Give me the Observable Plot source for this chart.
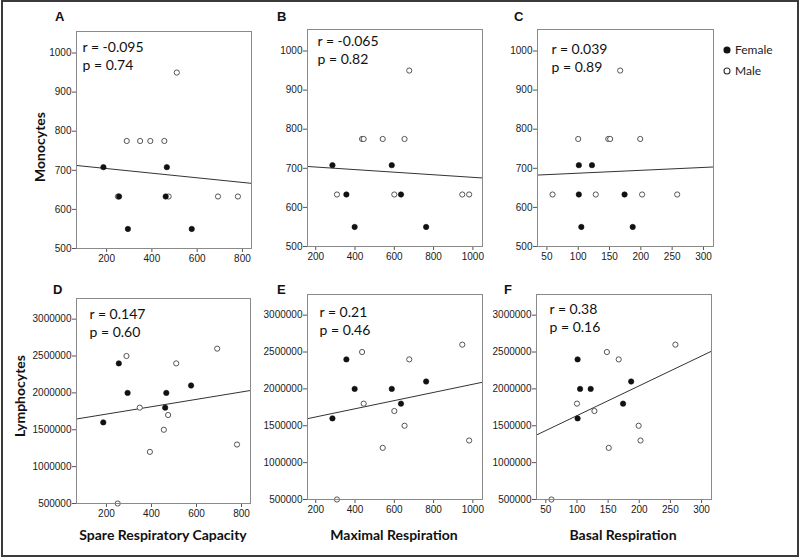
<!DOCTYPE html>
<html>
<head>
<meta charset="utf-8">
<script src="https://cdn.jsdelivr.net/npm/d3@7"></script>
<script src="https://cdn.jsdelivr.net/npm/@observablehq/plot@0.6"></script>
<style>
  body { margin: 0; background: #fff; }
  #fig { position: relative; width: 800px; height: 559px; background: #fff; overflow: hidden; }
  #border { position: absolute; left: 1px; top: 0px; width: 794px; height: 553px; border: 2px solid #3a3a3a; }
  .panel { position: absolute; }
  .panel svg { overflow: visible; }
  .lbl { position: absolute; white-space: nowrap; color: #111; }
  .letter { font: bold 13px "Liberation Sans", Arial, sans-serif; }
  .xlab { font: bold 14px Lato, sans-serif; transform: translateX(-50%); }
  .ylab { font: bold 14px Lato, sans-serif; transform: translate(-50%, -50%) rotate(-90deg); }
  .leg { font: 12px Lato, sans-serif; color: #222; }
</style>
</head>
<body>
<div id="fig"><div id="border"></div></div>
<script>
// ---- data (one entry per subject) ----
const sex = ["F","F","F","F","F","F","M","M","M","M","M","M","M","M","M"];
const spareResp = [186, 255, 294, 466, 461, 576, 250, 289, 348, 393, 474, 455, 510, 692, 780];
const maxResp   = [285, 356, 398, 587, 634, 762, 308, 436, 444, 541, 600, 652, 676, 946, 981];
const basalResp = [101, 101, 105, 122, 174, 187, 59, 148, 100, 151, 128, 199, 167, 258, 202];
const monocytes = [708, 633, 550, 708, 633, 550, 633, 775, 775, 775, 633, 775, 950, 633, 633];
const lymphocytes = [1600000, 2400000, 2000000, 2000000, 1800000, 2100000, 500000, 2500000,
                     1800000, 1200000, 1700000, 1500000, 2400000, 2600000, 1300000];

const panelLetters = ["A","B","C","D","E","F"];
const rValues = ["-0.095", "-0.065", "0.039", "0.147", "0.21", "0.38"];
const pValues = ["0.74", "0.82", "0.89", "0.60", "0.46", "0.16"];

const xLabels = ["Spare Respiratory Capacity", "Maximal Respiration", "Basal Respiration"];
const yLabels = ["Monocytes", "Lymphocytes"];
const legendLabels = ["Female", "Male"];

const srcTicks = [200, 400, 600, 800];
const mrTicks = [200, 400, 600, 800, 1000];
const brTicks = [50, 100, 150, 200, 250, 300];
const monoTicks = [500, 600, 700, 800, 900, 1000];
const lymphTicks = [500000, 1000000, 1500000, 2000000, 2500000, 3000000];

const xDomains = [[67, 840], [158, 1049], [35, 316]];
const yDomains = [[500, 1055], [500000, 3280000]];

const rows = sex.map((s, i) => ({
  sex: s, src: spareResp[i], mr: maxResp[i], br: basalResp[i],
  mono: monocytes[i], lymph: lymphocytes[i]
}));

const xKeys = ["src", "mr", "br"];
const yKeys = ["mono", "lymph"];
const xTicks = [srcTicks, mrTicks, brTicks];
const yTicks = [monoTicks, lymphTicks];

// ---- layout ----
const layout = [
  {left: 0,   top: 0,   w: 262, h: 268, mL: 76, mT: 31, mR: 11, mB: 20, tx: 6,  ty: 7},
  {left: 262, top: 0,   w: 230, h: 268, mL: 45, mT: 29, mR: 10, mB: 22, tx: 10, ty: 3},
  {left: 492, top: 0,   w: 230, h: 268, mL: 45, mT: 29, mR: 9,  mB: 22, tx: 14, ty: 11},
  {left: 0,   top: 268, w: 262, h: 262, mL: 76, mT: 30, mR: 12, mB: 27, tx: 13, ty: 7},
  {left: 262, top: 268, w: 230, h: 262, mL: 45, mT: 26, mR: 10, mB: 31, tx: 12, ty: 9},
  {left: 492, top: 268, w: 230, h: 262, mL: 44, mT: 26, mR: 11, mB: 31, tx: 13, ty: 6}
];
const letterPos = [[55, 9], [277, 9], [514, 9], [53, 282], [277, 282], [504, 282]];

const fig = document.getElementById("fig");

function fit(xk, yk) {
  const mx = d3.mean(rows, d => d[xk]), my = d3.mean(rows, d => d[yk]);
  const sxy = d3.sum(rows, d => (d[xk] - mx) * (d[yk] - my));
  const sxx = d3.sum(rows, d => (d[xk] - mx) ** 2);
  const b = sxy / sxx;
  return x => my + b * (x - mx);
}

layout.forEach((L, i) => {
  const col = i % 3, row = Math.floor(i / 3);
  const xk = xKeys[col], yk = yKeys[row];
  const f = fit(xk, yk);
  const xd = xDomains[col];
  const line = xd.map(x => ({x, y: f(x)}));
  const males = rows.filter(d => d.sex === "M");
  const females = rows.filter(d => d.sex === "F");
  const svg = Plot.plot({
    width: L.w, height: L.h,
    marginLeft: L.mL, marginTop: L.mT, marginRight: L.mR, marginBottom: L.mB,
    style: {fontFamily: '"Liberation Sans", Arial, sans-serif', fontSize: "10px", color: "#1a1a1a", background: "transparent"},
    x: {domain: xd},
    y: {domain: yDomains[row]},
    marks: [
      Plot.axisX({ticks: xTicks[col], tickSize: 4, tickPadding: 2, tickFormat: d => String(d), label: null, stroke: "#555", fill: "#1a1a1a"}),
      Plot.axisY({ticks: yTicks[row], tickSize: 4, tickPadding: 1, tickFormat: d => String(d), label: null, stroke: "#555", fill: "#1a1a1a"}),
      Plot.line(line, {x: "x", y: "y", stroke: "#333", strokeWidth: 1, clip: true}),
      Plot.dot(males, {x: xk, y: yk, r: 2.6, fill: "white", stroke: "#555", strokeWidth: 1}),
      Plot.dot(females, {x: xk, y: yk, r: 2.7, fill: "#111", stroke: "#111", strokeWidth: 0.6}),
      Plot.frame({stroke: "#8a8a8a", strokeWidth: 1}),
      Plot.text([`r = ${rValues[i]}\np = ${pValues[i]}`], {
        frameAnchor: "top-left", textAnchor: "start", lineAnchor: "top",
        dx: L.tx, dy: L.ty, fontSize: 14, lineHeight: 1.33, fill: "#111",
        fontFamily: "Lato, sans-serif"
      })
    ]
  });
  const div = document.createElement("div");
  div.className = "panel";
  div.style.left = L.left + "px";
  div.style.top = L.top + "px";
  div.appendChild(svg);
  fig.appendChild(div);

  const lt = document.createElement("div");
  lt.className = "lbl letter";
  lt.style.left = letterPos[i][0] + "px";
  lt.style.top = letterPos[i][1] + "px";
  lt.textContent = panelLetters[i];
  fig.appendChild(lt);
});

// x-axis labels (centered under bottom frames)
const xLabCenters = [163, 394, 623];
xLabels.forEach((t, j) => {
  const d = document.createElement("div");
  d.className = "lbl xlab";
  d.style.left = xLabCenters[j] + "px";
  d.style.top = "526px";
  d.textContent = t;
  fig.appendChild(d);
});

// y-axis labels
const yLabPos = [[39, 147], [19, 396]];
yLabels.forEach((t, j) => {
  const d = document.createElement("div");
  d.className = "lbl ylab";
  d.style.left = yLabPos[j][0] + "px";
  d.style.top = yLabPos[j][1] + "px";
  d.textContent = t;
  fig.appendChild(d);
});

// legend
const legendStyles = [{fill: "#111", stroke: "#111"}, {fill: "white", stroke: "#333"}];
legendLabels.forEach((t, j) => {
  const y = 49 + j * 21;
  const s = legendStyles[j];
  const d = document.createElement("div");
  d.className = "lbl leg";
  d.style.left = "722px";
  d.style.top = (y - 8) + "px";
  d.innerHTML = `<svg width="10" height="10" style="vertical-align:middle;margin-right:3px"><circle cx="5" cy="5" r="3" fill="${s.fill}" stroke="${s.stroke}" stroke-width="1.1"></circle></svg><span style="vertical-align:middle">${t}</span>`;
  fig.appendChild(d);
});
</script>
</body>
</html>
